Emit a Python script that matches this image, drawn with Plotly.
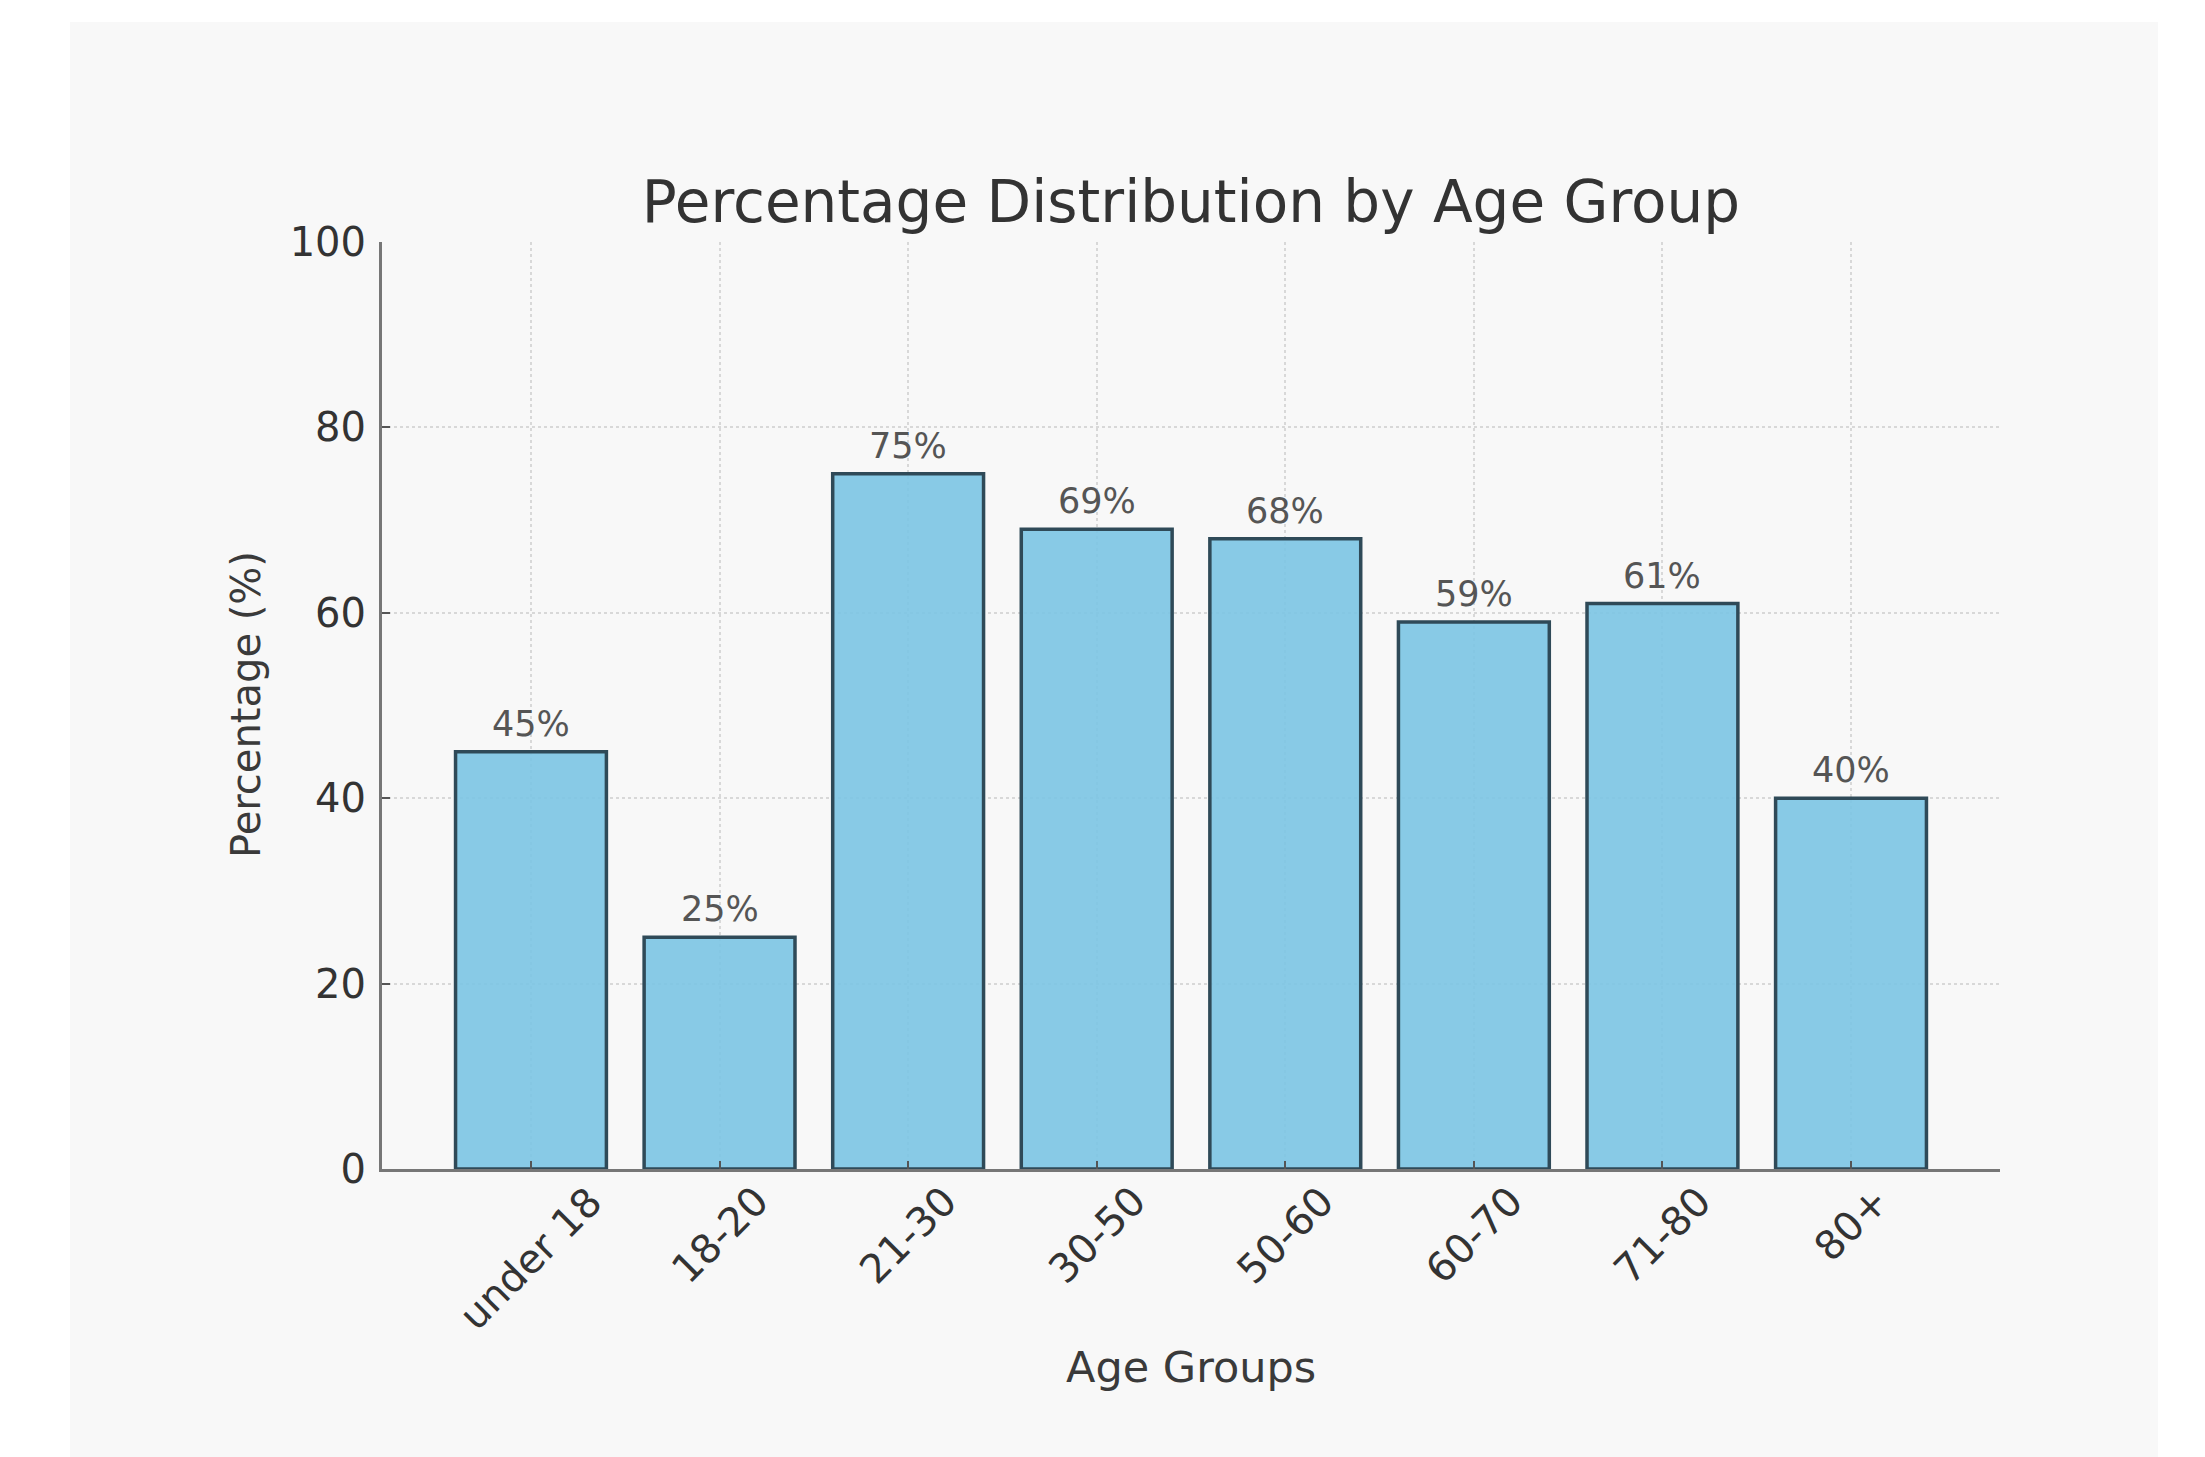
import plotly.graph_objects as go

# ---- data ----
categories = ["under 18", "18-20", "21-30", "30-50", "50-60", "60-70", "71-80", "80+"]
values = [45, 25, 75, 69, 68, 59, 61, 40]
value_labels = [f"{v}%" for v in values]
y_ticks = [0, 20, 40, 60, 80, 100]
title_text = "Percentage Distribution by Age Group"
x_title = "Age Groups"
y_title = "Percentage (%)"

# ---- layout geometry ----
W, H = 2205, 1457
ML, MR, MT, MB = 382, 205, 242, 288
PW = W - ML - MR
PH = H - MT - MB


def paper_x(px):
    return (px - ML) / PW


def paper_y(py):
    return (H - MB - py) / PH


FONT = "DejaVu Sans"
BG = "#f8f8f8"

fig = go.Figure(
    go.Bar(
        x=categories,
        y=values,
        width=0.8,
        marker=dict(color="rgba(126,198,228,0.92)",
                    line=dict(color="#2f4a58", width=3.5)),
        hoverinfo="x+y",
    )
)

annotations = []
# value labels above bars
for c, v, t in zip(categories, values, value_labels):
    annotations.append(dict(x=c, y=v, xref="x", yref="y", text=t, showarrow=False,
                            xanchor="center", yanchor="bottom", yshift=6,
                            font=dict(family=FONT, size=35, color="#555555")))
# rotated category labels (centered on ticks, like matplotlib)
for c in categories:
    annotations.append(dict(x=c, y=0, xref="x", yref="y", text=c, showarrow=False,
                            xanchor="center", yanchor="top", yshift=-6, textangle=-45,
                            font=dict(family=FONT, size=40, color="#333333")))
# axis titles
annotations.append(dict(x=0.5, y=paper_y(1367), xref="paper", yref="paper", text=x_title,
                        showarrow=False, xanchor="center", yanchor="middle",
                        font=dict(family=FONT, size=43, color="#3a3a3a")))
annotations.append(dict(x=paper_x(246), y=paper_y(705), xref="paper", yref="paper", text=y_title,
                        showarrow=False, xanchor="center", yanchor="middle", textangle=-90,
                        font=dict(family=FONT, size=40, color="#3a3a3a")))

fig.update_layout(
    width=W, height=H,
    margin=dict(l=ML, r=MR, t=MT, b=MB, autoexpand=False),
    paper_bgcolor="white",
    plot_bgcolor=BG,
    showlegend=False,
    title=dict(text=title_text, x=(ML + 0.5 * PW) / W, xanchor="center",
               y=1 - 202 / H, yanchor="middle",
               font=dict(family=FONT, size=58, color="#333333")),
    annotations=annotations,
    shapes=[dict(type="rect", xref="paper", yref="paper", layer="below",
                 x0=paper_x(70), x1=paper_x(2158), y0=paper_y(1457), y1=paper_y(22),
                 fillcolor=BG, line=dict(width=0))],
    xaxis=dict(range=[-0.79, 7.79], showticklabels=False,
               showgrid=True, gridcolor="#d8d8d8", gridwidth=2, griddash="dot",
               showline=True, linecolor="#777777", linewidth=3,
               ticks="inside", ticklen=8, tickwidth=2, tickcolor="#555555",
               zeroline=False, fixedrange=True),
    yaxis=dict(range=[0, 100], tickvals=y_ticks,
               showgrid=True, gridcolor="#d8d8d8", gridwidth=2, griddash="dot",
               showline=True, linecolor="#777777", linewidth=3,
               ticks="inside", ticklen=8, tickwidth=2, tickcolor="#555555",
               ticklabelstandoff=5,
               tickfont=dict(family=FONT, size=40, color="#333333"),
               zeroline=False, fixedrange=True),
)

fig.write_html("out.html")
